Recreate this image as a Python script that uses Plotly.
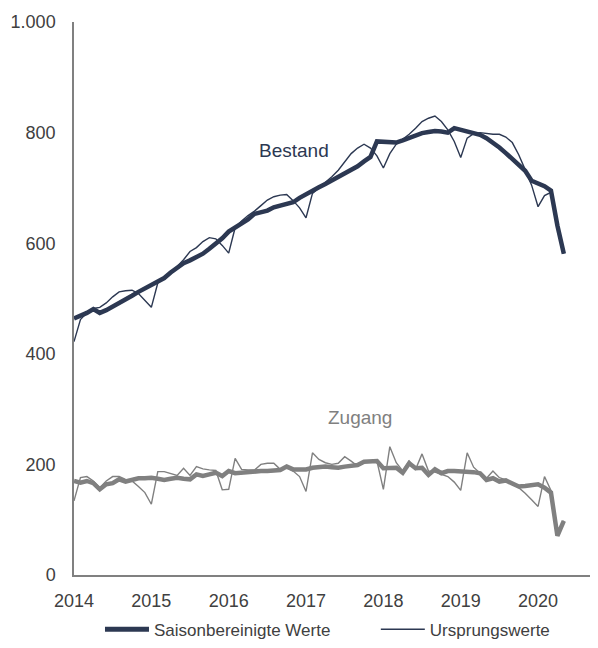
import plotly.graph_objects as go

# Monthly values, Jan 2014 .. May 2020 (index 0..76)
bestand_sa = [464, 468, 474, 481, 474, 479, 485, 493, 499, 505, 512, 518,
              524, 529, 537, 547, 556, 564, 569, 575, 581, 590, 599, 609,
              621, 628, 635, 643, 653, 655, 659, 665, 668, 671, 674, 682,
              689, 694, 701, 707, 713, 719, 726, 733, 739, 748, 756, 784,
              783, 782, 782, 786, 791, 795, 799, 801, 803, 802, 800, 808,
              805, 802, 800, 796, 790, 782, 773, 763, 752, 741, 731, 713,
              709, 703, 695, 632, 581]
bestand_orig = [422, 462, 474, 482, 484, 492, 503, 512, 514, 515, 509, 497,
                484, 528, 537, 548, 558, 570, 585, 592, 603, 610, 608, 596,
                582, 628, 640, 650, 658, 668, 678, 684, 687, 688, 677, 664,
                646, 690, 700, 710, 720, 732, 748, 762, 772, 779, 772, 758,
                736, 762, 779, 788, 797, 808, 820, 826, 830, 820, 805, 784,
                755, 790, 798, 800, 798, 797, 797, 792, 782, 760, 733, 705,
                666, 686, 692, 632, 581]
zugang_sa = [170, 167, 170, 166, 155, 164, 166, 173, 169, 173, 175, 175,
             176, 174, 172, 174, 176, 174, 173, 182, 179, 182, 185, 179,
             188, 184, 185, 188, 188, 188, 188, 188, 190, 196, 191, 191,
             191, 194, 196, 196, 195, 194, 196, 198, 199, 205, 205, 206,
             193, 194, 194, 185, 202, 193, 194, 181, 191, 184, 188, 188,
             188, 188, 186, 184, 172, 175, 169, 171, 166, 160, 161, 162,
             164, 158, 149, 71, 98]
zugang_orig = [134, 176, 178, 170, 158, 170, 178, 178, 173, 170, 160, 149,
               128, 187, 187, 184, 180, 193, 180, 196, 192, 190, 189, 154,
               155, 211, 191, 190, 190, 200, 202, 202, 191, 195, 188, 178,
               151, 221, 209, 203, 200, 202, 214, 206, 197, 205, 205, 206,
               155, 232, 203, 188, 206, 191, 219, 188, 186, 182, 178, 168,
               153, 221, 195, 184, 175, 188, 176, 172, 166, 158, 148, 136,
               124, 178, 153, 71, 98]

year_labels = ["2014", "2015", "2016", "2017", "2018", "2019", "2020"]
year_label_pos = [12 * k for k in range(len(year_labels))]  # January of each year
y_ticks = [0, 200, 400, 600, 800, 1000]

NAVY = "#2c3852"
GRAY = "#808080"
TXT = "#404040"
FONT = "Liberation Sans, Arial, sans-serif"

x = list(range(len(bestand_sa)))

fig = go.Figure()
fig.add_trace(go.Scatter(x=x, y=zugang_orig, mode="lines",
                         line=dict(color=GRAY, width=1.4), showlegend=False))
fig.add_trace(go.Scatter(x=x, y=zugang_sa, mode="lines",
                         line=dict(color=GRAY, width=4.5), showlegend=False))
fig.add_trace(go.Scatter(x=x, y=bestand_orig, mode="lines",
                         line=dict(color=NAVY, width=1.4), showlegend=False))
fig.add_trace(go.Scatter(x=x, y=bestand_sa, mode="lines",
                         line=dict(color=NAVY, width=4.5), showlegend=False))

# legend entries
fig.add_trace(go.Scatter(x=[None], y=[None], mode="lines", name="Saisonbereinigte Werte",
                         line=dict(color=NAVY, width=5), legend="legend"))
fig.add_trace(go.Scatter(x=[None], y=[None], mode="lines", name="Ursprungswerte",
                         line=dict(color=NAVY, width=1.4), legend="legend2"))

fig.add_annotation(x=34.1, y=767, text="Bestand", showarrow=False,
                   font=dict(family=FONT, size=19, color=NAVY))
fig.add_annotation(x=44.3, y=284, text="Zugang", showarrow=False,
                   font=dict(family=FONT, size=19, color=GRAY))

legend_common = dict(y=-0.099, xanchor="left", yanchor="middle", orientation="h",
                     itemwidth=44, font=dict(family=FONT, size=17, color=TXT),
                     bgcolor="rgba(0,0,0,0)")

fig.update_layout(
    width=590, height=640,
    margin=dict(l=66, r=0, t=14, b=70),
    paper_bgcolor="white", plot_bgcolor="white",
    separators=",.",
    font=dict(family=FONT, size=18, color=TXT),
    legend=dict(x=0.0496, **legend_common),
    legend2=dict(x=0.576, **legend_common),
    xaxis=dict(range=[0, 81.3], tickvals=year_label_pos, ticktext=year_labels,
               showgrid=False, zeroline=False, showline=True, linecolor="#808080",
               linewidth=1.5, ticks="", ticklabelstandoff=9,
               tickfont=dict(family=FONT, size=18, color=TXT)),
    yaxis=dict(range=[0, 1000], tickvals=y_ticks, tickformat=",d",
               showgrid=False, zeroline=False, showline=True, linecolor="#808080",
               linewidth=1.5, ticks="", ticklabelstandoff=13,
               tickfont=dict(family=FONT, size=18, color=TXT)),
)

fig.write_html("out.html")
